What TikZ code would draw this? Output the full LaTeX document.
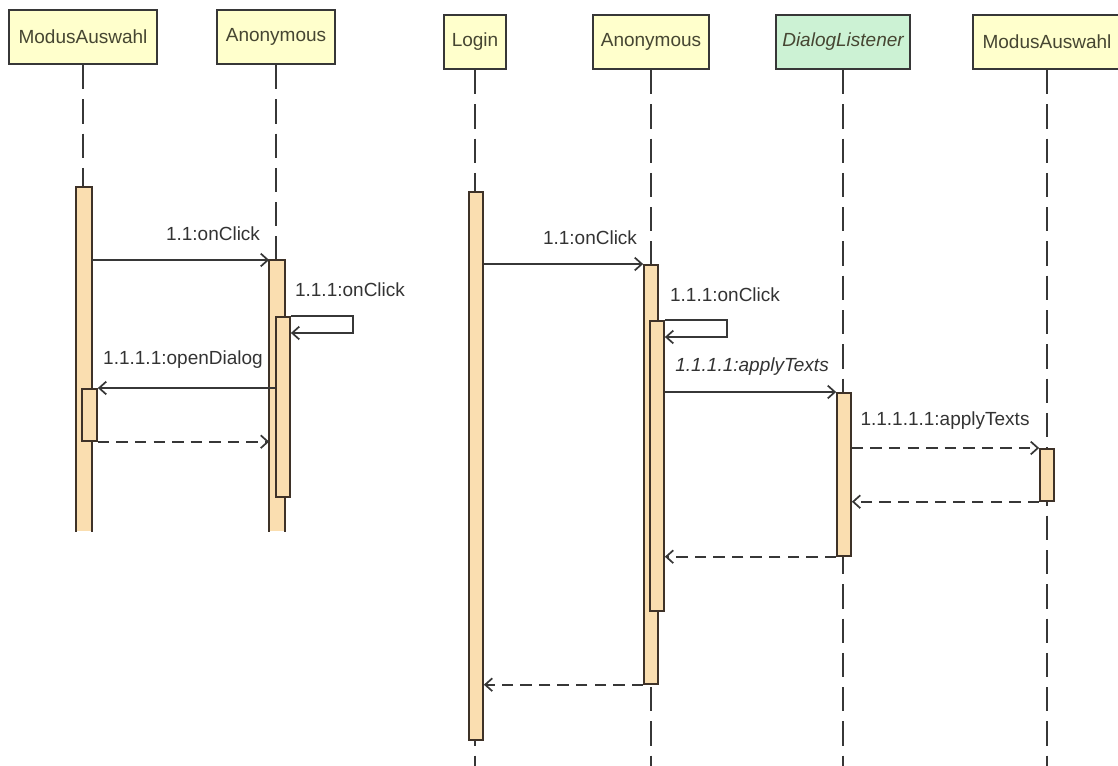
\documentclass[tikz,border=0pt]{standalone}
\usepackage{fontspec}
\setmainfont{Liberation Sans}
\usepackage{xcolor}
\usepackage{tikz}
\usetikzlibrary{arrows.meta, positioning}

\definecolor{headyellow}{RGB}{255,255,204}
\definecolor{headgreen}{RGB}{204,242,212}
\definecolor{barfill}{RGB}{250,222,176}
\definecolor{barline}{RGB}{62,50,40}
\definecolor{lineclr}{RGB}{55,55,55}
\definecolor{textclr}{RGB}{70,70,50}

\newcommand{\unitpx}{0.7pt}
\newcommand{\diagfont}{\fontsize{13.3}{16}\selectfont}

\tikzset{
  head/.style={draw=lineclr, line width=1.4pt, fill=headyellow, minimum height=54*\unitpx, inner sep=0pt, text=textclr, font=\diagfont},
  lifeline/.style={draw=lineclr, line width=1.2pt, dash pattern=on 17pt off 7pt},
  bar/.style={draw=barline, line width=1.2pt, fill=barfill, minimum width=14*\unitpx, inner sep=0pt, anchor=north},
  barside/.style={draw=barline, line width=1.2pt},
  call/.style={draw=lineclr, line width=1.2pt, -{Straight Barb[length=5pt,width=9pt]}},
  reply/.style={call, dash pattern=on 8pt off 5pt},
  msg/.style={text=black!80, inner sep=0pt, font=\diagfont},
  msgit/.style={msg, font=\diagfont\itshape},
}

\begin{document}
\begin{tikzpicture}[x=\unitpx, y=-\unitpx]
    \useasboundingbox (0,0) rectangle (1118,766);

    % Left diagram: heads and lifelines
    \node[head, minimum width=148*\unitpx] (lModus) at (83,37) {ModusAuswahl};
    \node[head, minimum width=118*\unitpx] (lAnon) at (276,37) {Anonymous};
    \draw[lifeline] (lModus.south) -- (lModus.south |- 0,530);
    \draw[lifeline] (lAnon.south) -- (lAnon.south |- 0,530);

    % Left diagram: activations
    \node[bar, draw=none, minimum height=343*\unitpx] (lModusA) at (84,187) {};
    \draw[barside] (lModusA.south west) |- (lModusA.north east) -- (lModusA.south east);
    \node[bar, minimum width=15*\unitpx, minimum height=52*\unitpx] (lModusB) at (89.5,388) {};
    \node[bar, draw=none, minimum height=270*\unitpx] (lAnonA) at (277,260) {};
    \draw[barside] (lAnonA.south west) |- (lAnonA.north east) -- (lAnonA.south east);
    \node[bar, minimum height=180*\unitpx] (lAnonB) at (283,316) {};

    % Left diagram: messages
    \draw[call] (lModusA.east |- 0,260) -- (lAnonA.north west);
    \draw[call] (lAnonB.north east) -- ++(62,0) |- (lAnonB.east |- 0,333);
    \draw[call] (lAnonB.west |- 0,388) -- (lModusB.north east);
    \draw[reply] (lModusB.south east) -- (lAnonA.west |- lModusB.south east);
    \node[msg] (lm1) at (213,234) {1.1:onClick};
    \node[msg] (lm2) at (350,290) {1.1.1:onClick};
    \node[msg] (lm3) at (183,360) {1.1.1.1:openDialog};

    % Right diagram: heads and lifelines
    \node[head, minimum width=62*\unitpx] (rLogin) at (475,42) {Login};
    \node[head, minimum width=116*\unitpx] (rAnon) at (651,42) {Anonymous};
    \node[head, fill=headgreen, minimum width=134*\unitpx, font=\diagfont\itshape] (rDialog) at (843,42) {DialogListener};
    \node[head, minimum width=148*\unitpx] (rModus) at (1047,42) {ModusAuswahl};
    \draw[lifeline] (rLogin.south) -- (rLogin.south |- 0,766);
    \draw[lifeline] (rAnon.south) -- (rAnon.south |- 0,766);
    \draw[lifeline] (rDialog.south) -- (rDialog.south |- 0,766);
    \draw[lifeline] (rModus.south) -- (rModus.south |- 0,766);

    % Right diagram: activations
    \node[bar, minimum height=548*\unitpx] (rLoginA) at (476,191) {};
    \node[bar, minimum height=419*\unitpx] (rAnonA) at (651,264) {};
    \node[bar, minimum height=290*\unitpx] (rAnonB) at (657,320) {};
    \node[bar, minimum height=163*\unitpx] (rDialogA) at (844,392) {};
    \node[bar, minimum height=52*\unitpx] (rModusA) at (1047,448) {};

    % Right diagram: messages
    \draw[call] (rLoginA.east |- 0,264) -- (rAnonA.north west);
    \draw[call] (rAnonB.north east) -- ++(62,0) |- (rAnonB.east |- 0,337);
    \draw[call] (rAnonB.east |- 0,392) -- (rDialogA.north west);
    \draw[reply] (rDialogA.east |- 0,448) -- (rModusA.north west);
    \draw[reply] (rModusA.south west) -- (rDialogA.east |- rModusA.south west);
    \draw[reply] (rDialogA.south west) -- (rAnonB.east |- rDialogA.south west);
    \draw[reply] (rAnonA.south west) -- (rLoginA.east |- rAnonA.south west);
    \node[msg] (rm1) at (590,238) {1.1:onClick};
    \node[msg] (rm2) at (725,295) {1.1.1:onClick};
    \node[msgit] (rm3) at (752,367) {1.1.1.1:applyTexts};
    \node[msg] (rm4) at (945,421) {1.1.1.1.1:applyTexts};
\end{tikzpicture}
\end{document}
